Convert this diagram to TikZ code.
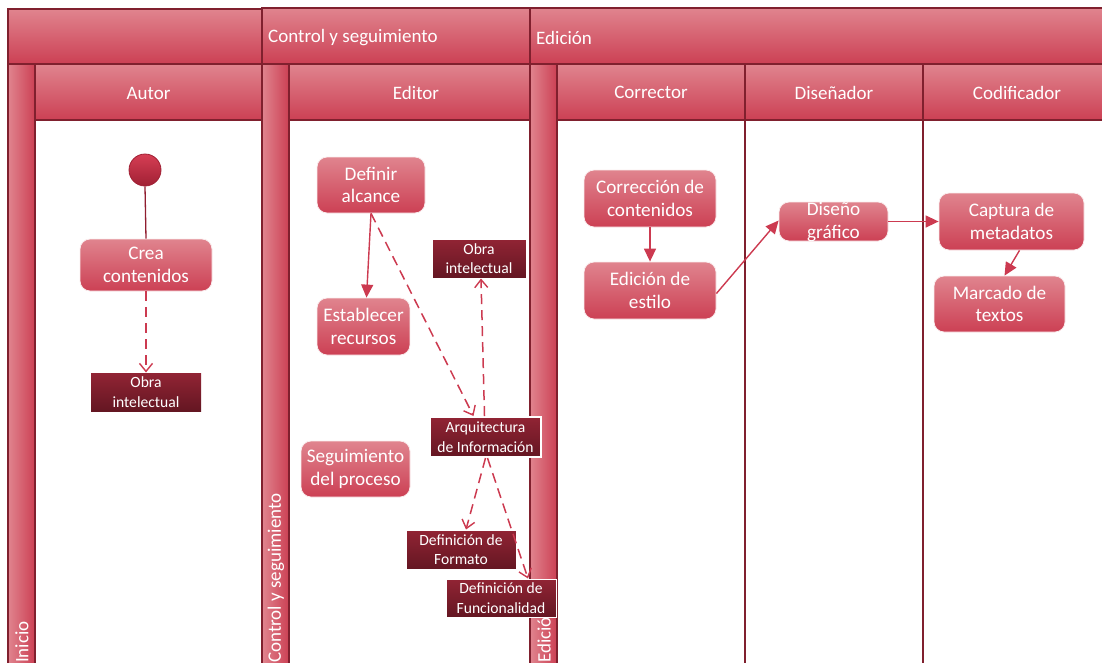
\documentclass[tikz,border=0pt]{standalone}
\usepackage{fontspec}
\setmainfont{Carlito}
\usetikzlibrary{arrows.meta}

\definecolor{hdrTop}{RGB}{224,132,142}
\definecolor{hdrBot}{RGB}{204,64,84}
\definecolor{laneEdge}{RGB}{128,32,46}
\definecolor{objTop}{RGB}{145,36,52}
\definecolor{objBot}{RGB}{100,22,34}
\definecolor{link}{RGB}{204,58,80}
\definecolor{startTop}{RGB}{214,62,84}
\definecolor{startBot}{RGB}{160,32,52}

\tikzset{
  hdr/.style={draw=laneEdge, line width=2pt, top color=hdrTop, bottom color=hdrBot},
  bar/.style={draw=laneEdge, line width=2pt, left color=hdrTop, right color=hdrBot},
  divider/.style={draw=laneEdge, line width=2pt},
  hdrtext/.style={text=white, font=\fontsize{19}{22}\selectfont, inner sep=0pt},
  activity/.style={rectangle, rounded corners=10pt, draw=white!85!hdrTop, line width=0.8pt,
    top color=hdrTop, bottom color=hdrBot, text=white, align=center,
    font=\fontsize{19.2}{22.5}\selectfont, inner sep=0pt},
  actext/.style={text=white, align=center, font=\fontsize{19.2}{22.5}\selectfont, inner sep=0pt},
  object/.style={rectangle, draw=white, line width=1pt, top color=objTop, bottom color=objBot,
    text=white, align=center, font=\fontsize{15.6}{19.5}\selectfont, inner sep=0pt},
  flow/.style={draw=link, line width=1.4pt, -{Triangle[length=13pt,width=12pt]}},
  objflow/.style={draw=link, line width=1.5pt, dash pattern=on 10pt off 6pt,
    -{Straight Barb[length=8pt,width=13pt,line width=1.4pt]}},
  startline/.style={draw=startBot!90!black, line width=1.3pt},
}

\begin{document}
\begin{tikzpicture}[x=1pt,y=-1pt]
\useasboundingbox (0,0) rectangle (1102,662);
\clip (0,0) rectangle (1102,662);

% top row of partitions
\path[hdr] (8,9) rectangle (262,64);
\path[hdr] (262,8) rectangle (530,64);
\path[hdr] (530,8) rectangle (1115,64);
\node[hdrtext, anchor=west] (pctrl) at (268,37.5) {Control y seguimiento};
\node[hdrtext, anchor=west] (pedit) at (536,37.5) {Edición};

% vertical partition bars
\path[bar] (8,64) rectangle (35,680);
\path[bar] (262,64) rectangle (289,680);
\path[bar] (530,64) rectangle (557,680);
\node[hdrtext, rotate=90, anchor=west] (vinicio) at (22,663) {Inicio};
\node[hdrtext, rotate=90, anchor=west] (vctrl) at (276,663) {Control y seguimiento};
\node[hdrtext, rotate=90, anchor=west] (vedit) at (544,663) {Edición};

% lane headers
\path[hdr] (35,64) rectangle (262,120);
\path[hdr] (289,64) rectangle (530,120);
\path[hdr] (557,64) rectangle (745,120);
\path[hdr] (745,64) rectangle (923,120);
\path[hdr] (923,64) rectangle (1115,120);
\node[hdrtext] (hautor) at (148.5,93) {Autor};
\node[hdrtext] (heditor) at (416,92.5) {Editor};
\node[hdrtext] (hcorr) at (651,92.5) {Corrector};
\node[hdrtext] (hdis) at (834,92.5) {Diseñador};
\node[hdrtext] (hcod) at (1017,92.5) {Codificador};

% lane separators
\draw[divider] (745,120) -- (745,680);
\draw[divider] (923,120) -- (923,680);

% Autor lane
\node[circle, draw=startBot, line width=0.8pt, top color=startTop, bottom color=startBot,
  minimum size=32pt, inner sep=0pt] (init) at (145,170) {};
\node[activity, minimum width=132pt, minimum height=52pt] (crea) at (146,265) {Crea\\contenidos};
\node[object, draw=none, minimum width=110pt, minimum height=38pt] (obra1) at (146,392) {Obra\\intelectual};

% Editor lane
\node[activity, minimum width=108pt, minimum height=56pt] (dalc) at (371,185) {Definir\\alcance};
\node[activity, minimum width=93pt, minimum height=57pt] (estab) at (363.5,326.5) {Establecer\\recursos};
\node[object, minimum width=94pt, minimum height=39pt] (obra2) at (479,258.5) {Obra\\intelectual};
\node[object, line width=2pt, minimum width=111pt, minimum height=40pt] (arq) at (485.5,437) {Arquitectura\\de Información};
\node[activity, minimum width=109pt, minimum height=56pt] (segui) at (355.5,469) {Seguimiento\\del proceso};
\node[object, minimum width=110pt, minimum height=39pt] (dform) at (461,549.5) {Definición de\\Formato};
\node[object, minimum width=110pt, minimum height=38pt] (dfunc) at (501,598) {Definición de\\Funcionalidad};

% Corrector lane
\node[activity, minimum width=132pt, minimum height=57pt] (corr) at (650,198.5) {Corrección de\\contenidos};
\node[activity, minimum width=132pt, minimum height=57pt] (edest) at (650,290.5) {Edición de\\estilo};

% Diseñador lane (label runs past the box and is cut by it)
\node[activity, minimum width=109pt, minimum height=39pt] (dis) at (833.5,221.5) {};
\begin{scope}
  \clip[rounded corners=10pt] (dis.south west) rectangle (dis.north east);
  \node[actext] (distxt) at (833.5,222) {Diseño\\gráfico};
\end{scope}

% Codificador lane
\node[activity, minimum width=145pt, minimum height=57pt] (capt) at (1011.5,221.5) {Captura de\\metadatos};
\node[activity, minimum width=131pt, minimum height=56pt] (marc) at (999.5,304) {Marcado de\\textos};

% control flow
\draw[startline] (init.south) -- (crea.north);
\draw[flow] (dalc.south) -- ([xshift=3pt]estab.north);
\draw[flow] (corr.south) -- (edest.north);
\draw[flow] ([yshift=-3pt]edest.east) -- ([yshift=1pt]dis.west);
\draw[flow] (dis.east) -- (capt.west);
\draw[flow] ([xshift=8pt]capt.south) -- ([xshift=5pt]marc.north);

% object flow
\draw[objflow] (crea.south) -- (obra1.north);
\draw[objflow] (dalc.south) -- ([xshift=-12pt]arq.north);
\draw[objflow] ([xshift=-1pt]arq.north) -- ([xshift=2pt]obra2.south);
\draw[objflow] (arq.south) -- ([xshift=5pt]dform.north);
\draw[objflow] ([xshift=2pt]arq.south) -- ([xshift=27pt]dfunc.north);
\end{tikzpicture}
\end{document}
